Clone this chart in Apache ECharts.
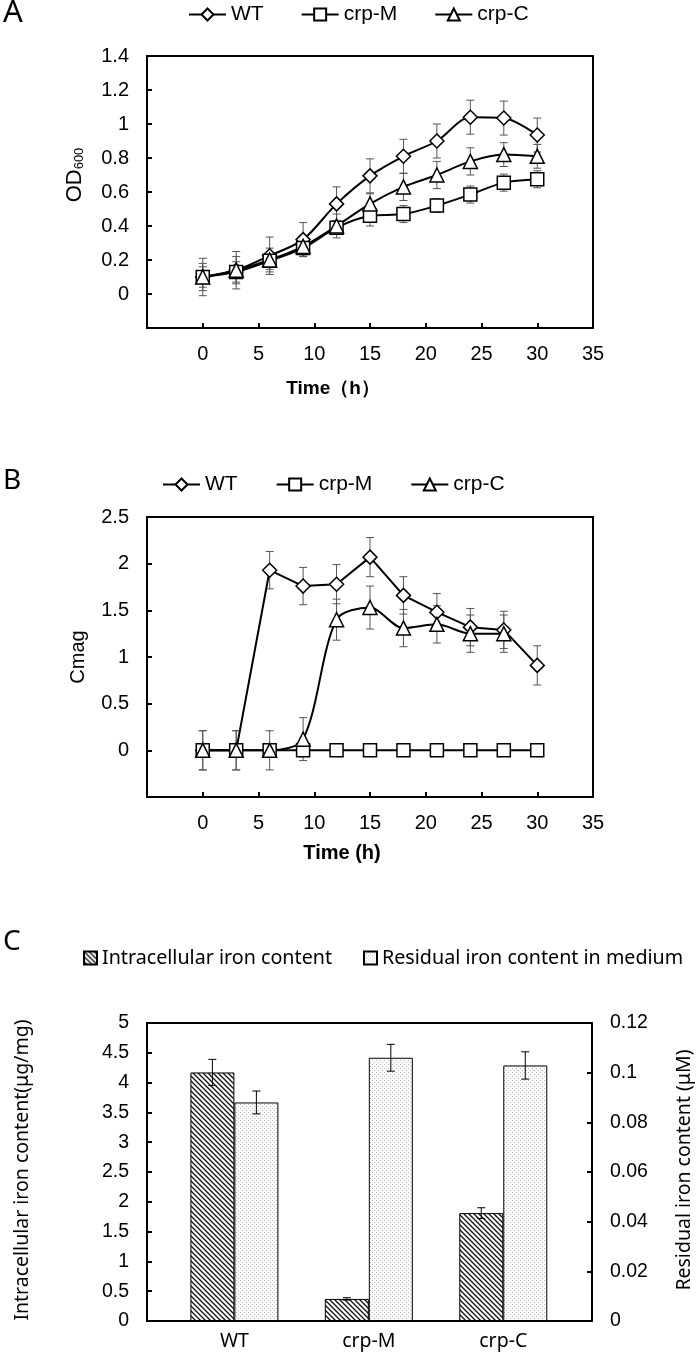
<!DOCTYPE html>
<html><head><meta charset="utf-8">
<script src="https://cdn.jsdelivr.net/npm/echarts@6/dist/echarts.min.js"></script>
<style>html,body{margin:0;padding:0;background:#fff}#c{width:700px;height:1355px}</style>
</head><body><div id="c"></div>
<script>
// ---------- Panel A: OD600 ----------
const timeA = [0, 3, 6, 9, 12, 15, 18, 21, 24, 27, 30];
const wtA = [0.10, 0.14, 0.225, 0.32, 0.53, 0.695, 0.81, 0.90, 1.04, 1.035, 0.935];
const wtAErr = [0.11, 0.11, 0.11, 0.10, 0.10, 0.10, 0.10, 0.10, 0.10, 0.10, 0.10];
const crpMA = [0.10, 0.13, 0.195, 0.27, 0.39, 0.46, 0.47, 0.52, 0.585, 0.655, 0.675];
const crpMAErr = [0.06, 0.06, 0.05, 0.04, 0.04, 0.06, 0.05, 0.04, 0.05, 0.05, 0.05];
const crpCA = [0.10, 0.14, 0.20, 0.28, 0.40, 0.53, 0.63, 0.70, 0.78, 0.82, 0.81];
const crpCAErr = [0.08, 0.08, 0.07, 0.06, 0.07, 0.06, 0.08, 0.08, 0.08, 0.07, 0.07];

// ---------- Panel B: Cmag ----------
const timeB = [0, 3, 6, 9, 12, 15, 18, 21, 24, 27, 30];
const wtB = [0, 0, 1.93, 1.76, 1.78, 2.07, 1.66, 1.48, 1.32, 1.29, 0.91];
const wtBErr = [0.21, 0.21, 0.20, 0.20, 0.21, 0.21, 0.20, 0.20, 0.20, 0.20, 0.21];
const crpMB = [0, 0, 0, 0, 0, 0, 0, 0, 0, 0, 0];
const crpCB = [0, 0, 0, 0.12, 1.40, 1.53, 1.31, 1.35, 1.25, 1.25, null];
const crpCBErr = [0.21, 0.21, 0.21, 0.23, 0.22, 0.23, 0.20, 0.20, 0.20, 0.20, null];

// ---------- Panel C: iron content ----------
const strains = ['WT', 'crp-M', 'crp-C'];
const intraIron = [4.17, 0.37, 1.81];
const intraIronErr = [0.22, 0.02, 0.09];
const residIron = [0.0880, 0.1060, 0.1029];
const residIronErr = [0.0046, 0.0054, 0.0055];

const ticksA_Y = { min: -0.2, max: 1.4, interval: 0.2 };
const ticksB_Y = { min: -0.5, max: 2.5, interval: 0.5 };
const ticksTime = { min: -5, max: 35, interval: 5 };

// ---------- styles ----------
const ARIAL = "'Liberation Sans', Arial, sans-serif";
const NOTO = "'Noto Sans', 'Liberation Sans', sans-serif";
const BAR_W = 44;
const TICK_FS = 20;
const LEG_FS = 21;

function makeHatch() {
  const s = 5, c = document.createElement('canvas');
  c.width = s; c.height = s;
  const g = c.getContext('2d');
  g.fillStyle = '#fff'; g.fillRect(0, 0, s, s);
  g.strokeStyle = '#111'; g.lineWidth = 1.3;
  g.beginPath();
  for (let k = -1; k <= 1; k++) { g.moveTo(k * s - 1, -1); g.lineTo(k * s + s + 1, s + 1); }
  g.stroke();
  return c;
}
function makeDots() {
  const s = 4, c = document.createElement('canvas');
  c.width = s; c.height = s;
  const g = c.getContext('2d');
  g.fillStyle = '#fbfbfb'; g.fillRect(0, 0, s, s);
  g.fillStyle = '#b8b8b8';
  g.fillRect(0, 0, 1, 1); g.fillRect(2, 2, 1, 1);
  return c;
}
const hatchFill = { image: makeHatch(), repeat: 'repeat' };
const dotFill = { image: makeDots(), repeat: 'repeat' };

function pts(xs, ys) { return xs.map((x, i) => [x, ys[i]]); }

function errSeries(xs, ys, es, xi, yi, color, offset, cap) {
  const data = [];
  xs.forEach((x, i) => { if (ys[i] != null && es[i] != null) data.push([x, ys[i] - es[i], ys[i] + es[i]]); });
  return {
    type: 'custom', xAxisIndex: xi, yAxisIndex: yi, silent: true, z: 1,
    encode: { x: 0, y: [1, 2] }, data,
    renderItem: (params, api) => {
      const lo = api.coord([api.value(0), api.value(1)]);
      const hi = api.coord([api.value(0), api.value(2)]);
      const x = lo[0] + offset;
      const st = { stroke: color, lineWidth: 1 };
      return { type: 'group', children: [
        { type: 'line', shape: { x1: x, y1: lo[1], x2: x, y2: hi[1] }, style: st },
        { type: 'line', shape: { x1: x - cap, y1: lo[1], x2: x + cap, y2: lo[1] }, style: st },
        { type: 'line', shape: { x1: x - cap, y1: hi[1], x2: x + cap, y2: hi[1] }, style: st }
      ] };
    }
  };
}

function lineSeries(name, xs, ys, xi, yi, symbol, size, smooth) {
  return {
    type: 'line', name, xAxisIndex: xi, yAxisIndex: yi, data: pts(xs, ys),
    symbol, symbolSize: size, smooth, showSymbol: true, z: 3,
    lineStyle: { color: '#000', width: 2 },
    itemStyle: { color: '#fff', borderColor: '#000', borderWidth: 1.5 }
  };
}

function timeAxis(gi) {
  return {
    type: 'value', gridIndex: gi, min: ticksTime.min, max: ticksTime.max, interval: ticksTime.interval,
    axisLine: { onZero: false, lineStyle: { color: '#000', width: 2 } },
    axisTick: { inside: true, length: 5, lineStyle: { color: '#000', width: 2 } },
    axisLabel: { margin: 16, fontSize: TICK_FS, fontFamily: ARIAL, color: '#000', formatter: v => (v < 0 ? '' : String(v)) },
    splitLine: { show: false }
  };
}
function valAxis(gi, t, fs) {
  return {
    type: 'value', gridIndex: gi, min: t.min, max: t.max, interval: t.interval,
    axisLine: { show: true, onZero: false, lineStyle: { color: '#000', width: 2 } },
    axisTick: { show: true, inside: true, length: 5, lineStyle: { color: '#000', width: 2 } },
    axisLabel: { margin: 18, fontSize: fs || TICK_FS, fontFamily: ARIAL, color: '#000', formatter: v => (v < 0 ? '' : String(+v.toFixed(2))) },
    splitLine: { show: false }
  };
}

const chart = echarts.init(document.getElementById('c'), null, { renderer: 'canvas' });
const option = {
  animation: false,
  backgroundColor: '#fff',
  grid: [
    { left: 147, top: 56, width: 446, height: 272, show: true, borderColor: '#000', borderWidth: 2 },
    { left: 147, top: 517, width: 446, height: 280, show: true, borderColor: '#000', borderWidth: 2 },
    { left: 147, top: 1023, width: 445, height: 298, show: true, borderColor: '#000', borderWidth: 2 }
  ],
  xAxis: [
    timeAxis(0),
    timeAxis(1),
    {
      type: 'value', gridIndex: 2, min: 0.35, max: 3.66,
      axisLine: { onZero: false, lineStyle: { color: '#000', width: 2 } },
      axisTick: { show: false },
      axisLabel: { margin: 10, fontSize: 19.5, fontFamily: NOTO, color: '#000', customValues: [1, 2, 3], formatter: v => strains[Math.round(v) - 1] || '' },
      splitLine: { show: false }
    }
  ],
  yAxis: [
    valAxis(0, ticksA_Y),
    valAxis(1, ticksB_Y),
    Object.assign(valAxis(2, { min: 0, max: 5, interval: 0.5 }, 19.5), { position: 'left' }),
    Object.assign(valAxis(2, { min: 0, max: 0.12, interval: 0.02 }, 19.5), { position: 'right' })
  ],
  legend: [
    {
      left: 188, top: 4, padding: 0, itemWidth: 37, itemHeight: 15, itemGap: 37, selectedMode: false,
      data: ['WT', 'crp-M', 'crp-C'],
      textStyle: { fontSize: LEG_FS, fontFamily: ARIAL, color: '#000' }
    },
    {
      left: 162, top: 474, padding: 0, itemWidth: 37, itemHeight: 15, itemGap: 38, selectedMode: false,
      data: ['WT', 'crp-M', 'crp-C'],
      textStyle: { fontSize: LEG_FS, fontFamily: ARIAL, color: '#000' }
    },
    {
      left: 83, top: 948, padding: 0, itemWidth: 13, itemHeight: 13, itemGap: 31, selectedMode: false, icon: 'rect',
      data: ['Intracellular iron content', 'Residual iron content in medium'],
      textStyle: { fontSize: 19.7, fontFamily: NOTO, color: '#000' }
    }
  ],
  series: [
    errSeries(timeA, wtA, wtAErr, 0, 0, '#555', 0, 4),
    errSeries(timeA, crpMA, crpMAErr, 0, 0, '#555', 0, 4),
    errSeries(timeA, crpCA, crpCAErr, 0, 0, '#555', 0, 4),
    lineSeries('WT', timeA, wtA, 0, 0, 'diamond', 14, 0.3),
    lineSeries('crp-M', timeA, crpMA, 0, 0, 'rect', 13, 0.3),
    lineSeries('crp-C', timeA, crpCA, 0, 0, 'triangle', 14, 0.3),

    errSeries(timeB, wtB, wtBErr, 1, 1, '#555', 0, 4),
    errSeries(timeB, crpCB, crpCBErr, 1, 1, '#555', 0, 4),
    lineSeries('WT', timeB, wtB, 1, 1, 'diamond', 14, false),
    lineSeries('crp-M', timeB, crpMB, 1, 1, 'rect', 13, false),
    lineSeries('crp-C', timeB, crpCB, 1, 1, 'triangle', 14, 0.3),

    {
      type: 'bar', name: 'Intracellular iron content', xAxisIndex: 2, yAxisIndex: 2,
      data: strains.map((s, i) => [i + 1, intraIron[i]]), barWidth: BAR_W, barGap: '0%',
      itemStyle: { color: hatchFill, borderColor: '#000', borderWidth: 1 }
    },
    {
      type: 'bar', name: 'Residual iron content in medium', xAxisIndex: 2, yAxisIndex: 3,
      data: strains.map((s, i) => [i + 1, residIron[i]]), barWidth: BAR_W, barGap: '0%',
      itemStyle: { color: dotFill, borderColor: '#000', borderWidth: 1 }
    },
    Object.assign(errSeries([1, 2, 3], intraIron, intraIronErr, 2, 2, '#000', -BAR_W / 2, 4), { z: 5 }),
    Object.assign(errSeries([1, 2, 3], residIron, residIronErr, 2, 3, '#000', BAR_W / 2, 4), { z: 5 })
  ],
  graphic: [
    { type: 'text', left: 3, top: -2, style: { text: 'A', fontSize: 31, fontFamily: NOTO, fill: '#000' } },
    { type: 'text', left: 3, top: 467, style: { text: 'B', fontSize: 28, fontFamily: NOTO, fill: '#000' } },
    { type: 'text', left: 3, top: 928, style: { text: 'C', fontSize: 28, fontFamily: NOTO, fill: '#000' } },
    { type: 'text', x: 333, y: 389, style: { text: 'Time（h）', fontSize: 19, fontWeight: 'bold', fontFamily: ARIAL, fill: '#000', align: 'center', verticalAlign: 'middle' } },
    { type: 'text', x: 342, y: 853, style: { text: 'Time (h)', fontSize: 20, fontWeight: 'bold', fontFamily: ARIAL, fill: '#000', align: 'center', verticalAlign: 'middle' } },
    { type: 'text', x: 75, y: 175, rotation: Math.PI / 2, style: {
        text: '{a|OD}{b|600}', align: 'center', verticalAlign: 'middle',
        rich: { a: { fontSize: 22, fontFamily: ARIAL, fill: '#000' }, b: { fontSize: 13, fontFamily: ARIAL, fill: '#000', verticalAlign: 'bottom' } } } },
    { type: 'text', x: 78, y: 657, rotation: Math.PI / 2, style: { text: 'Cmag', fontSize: 20, fontFamily: ARIAL, fill: '#000', align: 'center', verticalAlign: 'middle' } },
    { type: 'text', x: 22, y: 1170, rotation: Math.PI / 2, style: { text: 'Intracellular iron content(μg/mg)', fontSize: 19.5, fontFamily: NOTO, fill: '#000', align: 'center', verticalAlign: 'middle' } },
    { type: 'text', x: 684, y: 1170, rotation: Math.PI / 2, style: { text: 'Residual iron content (μM)', fontSize: 19.5, fontFamily: NOTO, fill: '#000', align: 'center', verticalAlign: 'middle' } }
  ]
};
chart.setOption(option);
</script>
</body></html>
